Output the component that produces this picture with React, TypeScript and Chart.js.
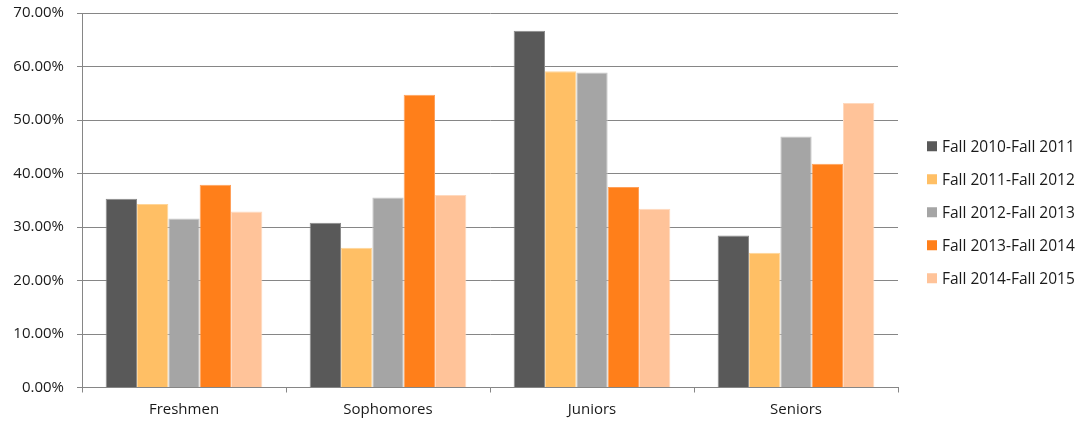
import React, { useEffect, useRef } from "react";
import { Chart, registerables } from "chart.js";

Chart.register(...registerables);

const categories = ["Freshmen", "Sophomores", "Juniors", "Seniors"];
const seriesNames = [
  "Fall 2010-Fall 2011",
  "Fall 2011-Fall 2012",
  "Fall 2012-Fall 2013",
  "Fall 2013-Fall 2014",
  "Fall 2014-Fall 2015",
];
const fall2010 = [35.3, 30.8, 66.7, 28.4];
const fall2011 = [34.3, 26.1, 59.1, 25.2];
const fall2012 = [31.6, 35.5, 58.9, 46.9];
const fall2013 = [37.9, 54.7, 37.5, 41.8];
const fall2014 = [32.9, 36.0, 33.4, 53.2];
const seriesValues = [fall2010, fall2011, fall2012, fall2013, fall2014];
const colors = ["#595959", "#FFBF65", "#A5A5A5", "#FF7F1A", "#FFC399"];
const edgeColors = ["#8a8a8a", "#FFD598", "#C8C8C8", "#FFA05A", "#FFD9BE"];
const yTicks = [0, 10, 20, 30, 40, 50, 60, 70];

const FONT = "'Open Sans', sans-serif";
const TEXT = "#1a1a1a";
const AXIS = "#868686";

const legendPlugin = {
  id: "sideLegend",
  afterDraw(chart: any) {
    const { ctx, chartArea } = chart;
    const x = chartArea.right + 29;
    const spacing = 33;
    const total = spacing * (seriesNames.length - 1);
    const startY = (chartArea.top + chartArea.bottom) / 2 - total / 2 + 12;
    ctx.save();
    ctx.font = `15.5px ${FONT}`;
    ctx.textBaseline = "middle";
    ctx.textAlign = "left";
    seriesNames.forEach((name, i) => {
      const y = startY + i * spacing;
      ctx.fillStyle = colors[i];
      ctx.fillRect(x, y - 5, 10, 10);
      ctx.fillStyle = TEXT;
      ctx.fillText(name, x + 15, y + 1);
    });
    ctx.restore();
  },
};

export default function App() {
  const ref = useRef<HTMLCanvasElement>(null);
  useEffect(() => {
    document.body.style.margin = "0";
    const chart = new Chart(ref.current!, {
      type: "bar",
      data: {
        labels: categories,
        datasets: seriesValues.map((vals, i) => ({
          label: seriesNames[i],
          data: vals,
          backgroundColor: colors[i],
          borderColor: edgeColors[i],
          borderWidth: 1,
          categoryPercentage: 0.768,
          barPercentage: 1,
        })),
      },
      options: {
        animation: false,
        responsive: false,
        maintainAspectRatio: false,
        layout: { padding: { top: 13, right: 182, left: 0, bottom: 0 } },
        plugins: { legend: { display: false }, tooltip: { enabled: false } },
        scales: {
          x: {
            offset: true,
            grid: {
              offset: true,
              drawOnChartArea: false,
              drawTicks: true,
              tickLength: 5,
              color: AXIS,
            },
            border: { color: AXIS, width: 1 },
            ticks: { color: TEXT, font: { family: FONT, size: 15 }, padding: 8 },
            afterFit(scale: any) {
              scale.height = 35.5;
              scale.paddingLeft = 0;
              scale.paddingRight = 0;
            },
          },
          y: {
            min: 0,
            max: 70,
            afterBuildTicks(scale: any) {
              scale.ticks = yTicks.map((v) => ({ value: v }));
            },
            grid: { color: AXIS, tickLength: 5, lineWidth: 1 },
            border: { color: AXIS, width: 1 },
            ticks: {
              color: TEXT,
              font: { family: FONT, size: 15 },
              padding: 13,
              callback: (v: any) => Number(v).toFixed(2) + "%",
            },
            afterFit(scale: any) {
              scale.width = 82;
              scale.paddingTop = 0;
              scale.paddingBottom = 0;
            },
          },
        },
      },
      plugins: [legendPlugin],
    });
    return () => chart.destroy();
  }, []);
  return (
    <div style={{ position: "absolute", left: 0, top: 0, width: 1080, height: 423 }}>
      <canvas ref={ref} width={1080} height={423} style={{ width: 1080, height: 423 }} />
    </div>
  );
}
